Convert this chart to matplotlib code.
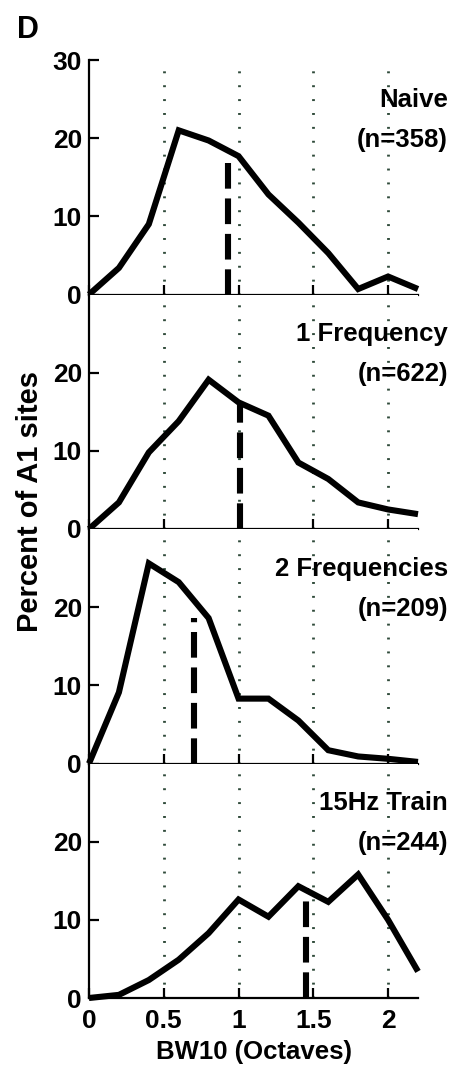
import numpy as np
import matplotlib
matplotlib.use("Agg")
import matplotlib.pyplot as plt

plt.rcParams['font.family'] = ['Liberation Sans', 'DejaVu Sans']

# %% data
bw10 = [0, 0.2, 0.4, 0.6, 0.8, 1.0, 1.2, 1.4, 1.6, 1.8, 2.0, 2.2]

naive = [0, 3.4, 9.0, 21.0, 19.7, 17.7, 12.8, 9.2, 5.3, 0.7, 2.3, 0.7]
one_freq = [0, 3.4, 9.8, 13.8, 19.1, 16.2, 14.5, 8.5, 6.4, 3.4, 2.5, 1.9]
two_freq = [0, 9.1, 25.6, 23.2, 18.6, 8.3, 8.3, 5.5, 1.7, 0.9, 0.6, 0.2]
train_15hz = [0, 0.4, 2.3, 4.9, 8.3, 12.6, 10.4, 14.3, 12.3, 15.8, 10.0, 3.4]

groups = ["Naive", "1 Frequency", "2 Frequencies", "15Hz Train"]
counts = [358, 622, 209, 244]
medians = [0.93, 1.01, 0.705, 1.45]
median_tops = [18.0, 15.8, 18.6, 14.1]
series = [naive, one_freq, two_freq, train_15hz]

grid_x = [0.5, 1.0, 1.5, 2.0]
xticks = [0, 0.5, 1, 1.5, 2]
xtick_labels = ["0", "0.5", "1", "1.5", "2"]

# %% figure
W, H = 459, 1072
fig = plt.figure(figsize=(W / 100, H / 100), dpi=100)

left = 89 / W
width = (418 - 89) / W
top_px, bot_px = 60, 998
ph = (bot_px - top_px) / 4
fw = 'bold'

for i in range(4):
    y0 = 1 - (top_px + ph * (i + 1)) / H
    ax = fig.add_axes([left, y0, width, ph / H])
    for xv in grid_x:
        ax.axvline(xv, color='#2f4a3a', lw=2.0, ls=(0, (0.7, 4.3)), zorder=1)
    ax.plot(bw10, series[i], color='black', lw=4.4, solid_joinstyle='miter',
            solid_capstyle='butt', zorder=3, clip_on=False)
    ax.plot([medians[i], medians[i]], [0, median_tops[i]], color='black',
            lw=4.4, ls=(0, (4.2, 1.6)), zorder=2)
    ax.set_xlim(0, 2.2)
    ax.set_ylim(0, 30)
    ax.spines['top'].set_visible(False)
    ax.spines['right'].set_visible(False)
    ax.spines['left'].set_linewidth(1.6)
    ax.spines['bottom'].set_linewidth(1.6)
    ax.tick_params(direction='in', length=7, width=1.6, labelsize=19)
    ax.tick_params(axis='y', pad=5)
    ax.tick_params(axis='x', pad=8)
    ax.set_xticks(xticks)
    if i == 0:
        ax.set_yticks([0, 10, 20, 30])
    else:
        ax.set_yticks([0, 10, 20])
    for lab in ax.get_yticklabels():
        lab.set_fontweight(fw)
    if i < 3:
        ax.set_xticklabels([])
    else:
        ax.set_xticklabels(xtick_labels, fontweight=fw)
        ax.set_xlabel('BW10 (Octaves)', fontsize=18.5, fontweight=fw,
                      labelpad=5)
    ax.text(1.091, 0.83, groups[i], transform=ax.transAxes, ha='right',
            va='center', fontsize=18.5, fontweight=fw)
    ax.text(1.091, 0.66, '(n=%d)' % counts[i], transform=ax.transAxes,
            ha='right', va='center', fontsize=18.5, fontweight=fw)

fig.text(30 / W, 1 - 502 / H, 'Percent of A1 sites', rotation=90,
         ha='center', va='center', fontsize=21, fontweight=fw)
fig.text(17 / W, 1 - 30 / H, 'D', ha='left', va='center', fontsize=22,
         fontweight='bold')

fig.savefig('out.png', dpi=100)
